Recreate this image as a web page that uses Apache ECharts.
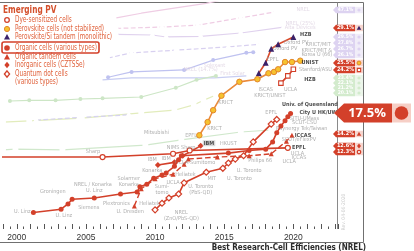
<!DOCTYPE html>
<html>
<head>
<meta charset="utf-8">
<script src="https://cdn.jsdelivr.net/npm/echarts@6/dist/echarts.min.js"></script>
<style>
  html, body { margin: 0; padding: 0; background: #fff; }
  #chart { width: 414px; height: 251px; }
</style>
</head>
<body>
<div id="chart"></div>
<script>
var NARROW = "'Liberation Sans Narrow','DejaVu Sans Condensed','Roboto Condensed','Liberation Sans',sans-serif";
var RED = '#d3402a';

// ---- highlighted series: [year, efficiency %] ----
var organic = [[2001.2,2.5],[2003.2,3.0],[2003.7,3.8],[2004.0,4.5],[2005.6,4.7],[2007.5,5.3],[2008.7,5.6],[2008.9,6.4],
  [2009.4,6.8],[2009.9,7.7],[2010.5,8.2],[2010.8,8.5],[2011.4,9.5],[2011.7,10.5],[2011.9,11.1],[2015.3,11.5],
  [2016.8,11.9],[2018.0,12.1],[2018.5,13.2],[2018.8,14.6],[2019.1,15.6],[2019.4,16.4],[2019.6,17.0],[2019.8,17.5]];
var organicTandem = [[2008.5,3.5],[2009.0,6.1],[2010.0,7.6],[2011.3,8.3],[2012.1,9.8],[2012.4,10.6],[2014.5,10.9],
  [2016.8,11.1],[2018.4,11.4],[2019.5,13.3],[2019.9,14.2]];
var inorganic = [[2010.2,9.7],[2011.4,10.1],[2012.0,11.1],[2013.3,12.6]];
var dye = [[1997.0,10.9],[2006.2,10.9],[2011.3,11.4],[2012.5,11.9],[2019.6,12.3]];
var quantumDot = [[2010.0,2.9],[2010.5,3.9],[2011.0,4.7],[2011.7,5.3],[2012.1,7.0],[2013.7,8.6],[2014.9,9.2],
  [2015.3,10.0],[2015.8,10.6],[2016.4,11.1],[2017.1,13.2],[2018.4,15.9],[2018.8,16.6]];
var perovskite = [[2013.2,14.2],[2013.8,16.2],[2014.2,18.0],[2014.8,20.2],[2016.1,22.3],[2017.4,22.7],[2018.2,23.6],
  [2018.6,23.8],[2018.9,24.2],[2019.4,25.3],[2019.9,25.3],[2020.5,25.5]];
var perovskiteSi = [[2017.5,23.6],[2018.0,25.2],[2018.4,27.3],[2018.9,28.0],[2020.0,29.1]];
var perovskiteCigs = [[2019.1,22.1],[2019.6,23.2],[2020.0,24.2]];

// ---- faded background technologies ----
var bgPinkTop = [[2007.2,32.0],[2009.0,32.7],[2011.5,33.5],[2013.7,34.2],[2015.0,34.8]];
var bgPinkDash = [[2007.2,30.4],[2010.5,30.6],[2013.1,30.9],[2016.2,32.0],[2018.7,32.9]];
var bgLavTri = [[2007.2,29.5],[2009.8,29.4],[2010.8,29.1],[2013.3,29.2],[2016.2,29.7],[2019.3,30.6]];
var bgLavDash = [[2006.6,25.9],[2008.3,26.7],[2011.5,27.1],[2015.3,27.6],[2017.6,28.0]];
var bgBlueDots = [[2006.6,23.0],[2008.3,23.8],[2012.1,24.1],[2014.2,25.6],[2016.6,26.7],[2017.1,26.8]];
var bgBlueLine = [[2006.2,22.6],[2008.3,22.9],[2014.3,22.9],[2016.6,23.2]];
var bgGreenDots = [[1999.5,19.4],[2000.9,19.5],[2002.8,19.5],[2004.6,19.7],[2006.2,19.8],[2009.0,20.0],
  [2011.5,21.4],[2013.0,22.6],[2014.4,23.2]];
var bgYellowGreen = [[1999.0,16.2],[2000.9,16.4],[2004.7,16.8],[2009.0,17.6],[2011.4,18.0],[2012.8,18.8],
  [2013.5,19.5],[2014.4,20.3]];
var bgLavLow = [[2001.4,16.5],[2004.5,16.9],[2008.1,17.3]];
var bgGreenLow = [[1999.0,12.0],[1999.9,12.1],[2003.3,12.0],[2009.3,12.7],[2011.9,13.5],[2016.2,14.7],[2018.4,15.0]];

// ---- point labels: [text, year, efficiency] ----
var notesGray = [['U. Linz',2000.4,2.6],['U. Linz',2003.4,2.0],['Groningen',2002.6,5.6],['Siemens',2005.2,3.2],
  ['NREL / Konarka',2005.5,6.8],['U. Linz',2005.6,5.8],['Plextronics',2007.2,3.8],['Solarmer',2008.1,7.7],
  ['Konarka',2008.1,6.7],['U. Dresden',2008.2,2.6],['Heliatek',2009.6,3.9],['Konarka',2009.8,8.9],
  ['IBM',2009.8,10.5],['IBM',2010.8,10.6],['NIMS',2011.3,12.4],['Sharp',2012.4,12.4],['Mitsubishi',2010.1,14.6],
  ['UCLA-Sumitomo',2012.9,10.0],['Heliatek',2012.2,8.2],['UCLA',2011.3,7.1],['Sumi-\ntomo',2010.5,5.9],
  ['U. Toronto\n(PbS-QD)',2013.3,5.9],['NREL\n(ZnO/PbS-QD)',2011.9,2.0],['MIT',2014.1,7.7],['U. Toronto',2016.1,7.6],
  ['U. Toronto',2016.8,8.9],['Philips 66',2017.6,10.3],['HKUST',2015.3,13.0],['EPFL',2012.6,14.2],
  ['KRICT',2014.3,15.2],['KRICT',2015.1,19.2],['EPFL',2018.4,17.6],['Sharp',2005.5,11.8],
  ['SJTU-UMass',2020.8,16.8],['SCUT-CSU',2020.8,16.1],['Raynergy Tek/Taiwan',2020.6,15.2],
  ['SCUT/eFlexPV',2020.4,13.5],['UCLA',2020.3,11.5],['ICCAS',2020.4,10.8],['UCLA',2019.7,10.2],
  ['Oxford PV',2020.2,28.2],['Oxford PV',2019.4,27.4],['KRICT/MIT',2021.8,27.9],['KRICT/MIT &',2021.7,27.1],
  ['Korea U (66)',2021.7,26.4],['Stanford/ASU',2021.6,24.1],['UCLA',2019.8,21.2],['ISCAS',2018.0,21.1],
  ['KRICT/UNIST',2018.3,20.2],['EPFL',2018.5,25.6]];
var notesDark = [['Univ. of Queensland',2021.2,18.9],['City U HK/UW',2021.8,17.6],['ICCAS',2020.7,14.2],
  ['EPFL',2020.4,12.3],['HZB',2020.9,29.4],['UNIST',2021.2,25.2],['HZB',2021.2,22.6]];
var notesBoxed = [['IBM',2013.9,13.0]];
var notesFaint = [['NREL',2020.7,33.2],['NREL (25%)',2020.5,31.2],['Alta Devices',2020.5,30.5],
  ['NREL (14.7%)',2013.3,24.1],['Solexant',2014.3,24.7],['First Solar',2015.6,23.6]];

// ---- legend and record tags ----
var legendTitle = 'Emerging PV';
var legendNames = ['Dye-sensitized cells','Perovskite cells (not stabilized)','Perovskite/Si tandem (monolithic)',
  'Organic cells (various types)','Organic tandem cells','Inorganic cells (CZTSSe)','Quantum dot cells\n(various types)'];
var legendKinds = ['dye','pero','perosi','org','orgtan','inorg','qd'];
var recordText = ['29.1%','25.5%','24.2%','14.2%','12.6%','12.3%'];
var recordKinds = ['perosi','pero','cigs','orgtan','inorg','dye'];
var fadedText = ['47.1%','29.5%','27.8%','26.7%','26.1%','23.4%','22.1%','21.2%','20.1%'];
var highlightText = '17.5%';
var caption = 'Best Research-Cell Efficiencies (NREL)';
var revision = 'Rev. 04-06-2020';

// layout of the right-hand tag column (pixel rows)
var recordRows = [28, 63, 70, 134, 146, 152];
var fadedRows = [10, 37, 43, 49, 55, 78, 83, 88, 93];
var legendRows = [20, 29, 37, 48, 57, 65, 78];

function marker(kind, cx, cy, s) {
  s = s || 1;
  var tri = [[cx, cy - 3 * s], [cx + 3 * s, cy + 2.4 * s], [cx - 3 * s, cy + 2.4 * s]];
  var dia = [[cx, cy - 3.2 * s], [cx + 2.6 * s, cy], [cx, cy + 3.2 * s], [cx - 2.6 * s, cy]];
  switch (kind) {
    case 'dye': return {type: 'circle', shape: {cx: cx, cy: cy, r: 2.3 * s}, style: {fill: '#fff', stroke: RED, lineWidth: 1.3}};
    case 'pero': return {type: 'circle', shape: {cx: cx, cy: cy, r: 2.6 * s}, style: {fill: '#f6c22e', stroke: '#e3862b', lineWidth: 1}};
    case 'perosi': return {type: 'polygon', shape: {points: tri}, style: {fill: '#3a2168'}};
    case 'org': return {type: 'circle', shape: {cx: cx, cy: cy, r: 2.8 * s}, style: {fill: RED}};
    case 'orgtan': return {type: 'polygon', shape: {points: tri}, style: {fill: RED}};
    case 'inorg': return {type: 'polygon', shape: {points: dia}, style: {fill: RED}};
    case 'qd': return {type: 'polygon', shape: {points: dia}, style: {fill: '#fff', stroke: RED, lineWidth: 1.3}};
    case 'cigs': return {type: 'rect', shape: {x: cx - 2.2 * s, y: cy - 2.2 * s, width: 4.4 * s, height: 4.4 * s}, style: {fill: '#fff', stroke: RED, lineWidth: 1.1}};
    default: return {type: 'circle', shape: {cx: cx, cy: cy, r: 2 * s}, style: {fill: kind}};
  }
}

function line(name, data, color, symbol, extra) {
  var s = {
    name: name, type: 'line', data: data, silent: true, z: 5,
    symbol: symbol, symbolSize: 5, showSymbol: symbol !== 'none',
    lineStyle: {color: color, width: 1.6},
    itemStyle: {color: color}
  };
  for (var k in extra) s[k] = extra[k];
  return s;
}

function bg(data, color, symbol, dashed, fillWhite) {
  return {
    type: 'line', data: data, silent: true, z: 2, symbol: symbol, symbolSize: 4,
    lineStyle: {color: color, width: 1.2, type: dashed ? 'dashed' : 'solid'},
    itemStyle: fillWhite ? {color: '#fff', borderColor: color, borderWidth: 1} : {color: color}
  };
}

function notes(list, color, weight, extra, z) {
  return {
    type: 'scatter', silent: true, z: z || 6, symbolSize: 1,
    itemStyle: {color: 'rgba(0,0,0,0)'},
    data: list.map(function (n) { return {name: n[0], value: [n[1], n[2]]}; }),
    label: Object.assign({show: true, position: 'inside', formatter: '{b}', color: color, fontSize: 5.5,
      lineHeight: 6, fontWeight: weight, fontFamily: NARROW}, extra || {})
  };
}

var series = [
  bg(bgPinkTop, '#efcde4', 'none'),
  bg(bgPinkDash, '#efcde4', 'emptyTriangle', true, true),
  bg(bgLavTri, '#e0d2ee', 'emptyTriangle', false, true),
  bg(bgLavDash, '#d8d0f0', 'emptyTriangle', true, true),
  bg(bgBlueDots, '#bfc2f0', 'circle'),
  bg(bgBlueLine, '#c8cdf2', 'none'),
  bg(bgGreenDots, '#cde6c6', 'circle'),
  bg(bgYellowGreen, '#e2ecbc', 'emptyCircle', false, true),
  bg(bgLavLow, '#d6d2f0', 'emptyTriangle', true, true),
  bg(bgGreenLow, '#d0e8cc', 'emptyCircle', false, true),
  line('Dye-sensitized cells', dye, RED, 'circle', {itemStyle: {color: '#fff', borderColor: RED, borderWidth: 1.2}}),
  line('Quantum dot cells', quantumDot, RED, 'diamond', {symbolSize: 6, itemStyle: {color: '#fff', borderColor: RED, borderWidth: 1.2}}),
  line('Inorganic cells (CZTSSe)', inorganic, RED, 'diamond', {symbolSize: 6}),
  line('Organic tandem cells', organicTandem, RED, 'triangle', {lineStyle: {color: RED, width: 1.4, type: 'dashed'}}),
  line('Organic cells', organic, RED, 'circle', {z: 7}),
  line('Perovskite/CIGS tandem', perovskiteCigs, RED, 'rect', {symbolSize: 4.5, itemStyle: {color: '#fff', borderColor: RED, borderWidth: 1.1}}),
  line('Perovskite/Si tandem', perovskiteSi, '#d94b2b', 'triangle', {symbolSize: 6, itemStyle: {color: '#3a2168'}}),
  line('Perovskite cells', perovskite, '#ea8a3a', 'circle', {symbolSize: 5.5, itemStyle: {color: '#f6c22e', borderColor: '#e3862b', borderWidth: 1}}),
  notes(notesFaint, '#dccfe0', 'normal'),
  notes(notesGray, '#9a9a9a', 'normal'),
  notes(notesDark, '#222', 'bold', null, 8),
  notes(notesBoxed, '#222', 'bold', {backgroundColor: '#cfcfcf', padding: [0, 1]}, 8)
];

// ---- graphic overlays: frame, legend, tag column, callout ----
var g = [];
var FRAME = '#707070';
g.push({type: 'line', shape: {x1: 0, y1: 2.5, x2: 363.5, y2: 2.5}, style: {stroke: FRAME, lineWidth: 1}});
g.push({type: 'line', shape: {x1: 363.5, y1: 2.5, x2: 363.5, y2: 242.5}, style: {stroke: FRAME, lineWidth: 1}});
g.push({type: 'line', shape: {x1: 0, y1: 242.5, x2: 363.5, y2: 242.5}, style: {stroke: FRAME, lineWidth: 1.2}});
g.push({type: 'line', shape: {x1: 337.5, y1: 2.5, x2: 337.5, y2: 229}, style: {stroke: '#8a8a8a', lineWidth: 1}});
g.push({type: 'text', x: 366, y: 248, style: {text: caption, align: 'right', verticalAlign: 'middle',
  fontSize: 8, fontWeight: 'bold', fill: '#2a2a2a', fontFamily: NARROW}});
g.push({type: 'text', x: 344, y: 212, rotation: Math.PI / 2, style: {text: revision, align: 'center',
  verticalAlign: 'middle', fontSize: 5, fill: '#cfcfcf', fontFamily: NARROW}});

// legend
g.push({type: 'text', x: 3, y: 10, scaleX: 0.78, style: {text: legendTitle, verticalAlign: 'middle', fontSize: 10.5,
  fontWeight: 'bold', fill: '#d4502c', fontFamily: NARROW}});
legendNames.forEach(function (name, i) {
  var y = legendRows[i];
  var first = name.indexOf('\n') > 0 ? y - 4 : y;
  g.push(marker(legendKinds[i], 7, first, 1));
  g.push({type: 'text', x: 15, y: y, scaleX: 0.75, style: {text: name, verticalAlign: 'middle', fontSize: 8.5,
    lineHeight: 8.5, fill: '#e0623c', fontFamily: NARROW}});
});
g.push({type: 'rect', shape: {x: 2, y: 42, width: 97, height: 11, r: 2}, style: {fill: 'none', stroke: RED, lineWidth: 1.6}});

// faded record tags
fadedText.forEach(function (t, i) {
  var y = fadedRows[i];
  var col = i < 5 ? '#ddd3f1' : '#d3ebcd';
  g.push({type: 'polygon', shape: {points: [[333, y], [336, y - 3.2], [355, y - 3.2], [355, y + 3.2], [336, y + 3.2]]}, style: {fill: col}});
  g.push({type: 'text', x: 345.5, y: y, style: {text: t, align: 'center', verticalAlign: 'middle', fontSize: 5,
    fontWeight: 'bold', fill: '#fff', fontFamily: NARROW}});
  g.push({type: 'rect', shape: {x: 355, y: y - 3.2, width: 8, height: 6.4}, style: {fill: i < 5 ? '#f1edf8' : '#edf6eb'}});
  g.push(marker(col, 359, y, 0.8));
});

// record tags of the highlighted technologies
recordText.forEach(function (t, i) {
  var y = recordRows[i];
  g.push({type: 'polygon', shape: {points: [[333, y], [336, y - 3.2], [355, y - 3.2], [355, y + 3.2], [336, y + 3.2]]}, style: {fill: RED}});
  g.push({type: 'text', x: 345.5, y: y, style: {text: t, align: 'center', verticalAlign: 'middle', fontSize: 5.5,
    fontWeight: 'bold', fill: '#fff', fontFamily: NARROW}});
  g.push({type: 'rect', shape: {x: 355, y: y - 3.2, width: 8, height: 6.4}, style: {fill: '#f7d6cf'}});
  g.push(marker(recordKinds[i], 359, y, 0.75));
});

// big organic callout
g.push({type: 'polygon', shape: {points: [[334, 113], [344, 103.5], [392, 103.5], [392, 122.5], [344, 122.5]]}, style: {fill: RED}, z: 20});
g.push({type: 'rect', shape: {x: 392, y: 103.5, width: 19, height: 19}, style: {fill: '#f6cfc6'}, z: 20});
g.push({type: 'circle', shape: {cx: 401.5, cy: 113, r: 6.8}, style: {fill: RED}, z: 21});
g.push({type: 'text', x: 367, y: 113.5, z: 21, style: {text: highlightText, align: 'center', verticalAlign: 'middle',
  fontSize: 13, fontWeight: 'bold', fill: '#fff', fontFamily: "'Open Sans','Liberation Sans',sans-serif"}});

var chart = echarts.init(document.getElementById('chart'));
chart.setOption({
  animation: false,
  backgroundColor: '#fff',
  grid: {left: 0, right: 76, top: 2, bottom: 22},
  xAxis: {
    type: 'value', min: 1999, max: 2023.23, interval: 1,
    axisLine: {show: false},
    axisTick: {show: true, inside: true, length: 5, lineStyle: {color: '#555', width: 1}},
    minorTick: {show: true, splitNumber: 2, length: 2.5, lineStyle: {color: '#555', width: 1}},
    splitLine: {show: false},
    axisLabel: {
      margin: 4, fontSize: 8.5, color: '#333', fontFamily: "'Liberation Sans',sans-serif",
      formatter: function (v) { return Math.abs(v % 5) < 1e-6 ? String(v) : ''; }
    }
  },
  yAxis: {type: 'value', min: 0, max: 34.4, show: false},
  series: series,
  graphic: g
});
</script>
</body>
</html>
